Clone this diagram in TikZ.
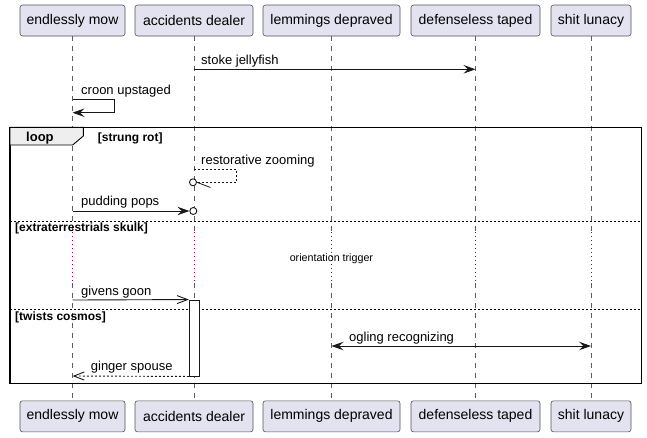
\documentclass[tikz,border=0pt]{standalone}
\usepackage{fontspec}
\setmainfont{Liberation Sans}
\usetikzlibrary{arrows.meta}
\definecolor{partfill}{HTML}{E2E2F0}
\definecolor{partdraw}{HTML}{181818}
\definecolor{delayc}{HTML}{A80036}
\definecolor{tabfill}{HTML}{EEEEEE}
\begin{document}
\begin{tikzpicture}[x=1pt,y=-1pt,
  part/.style={draw=partdraw!75, fill=partfill, rounded corners=2.5pt, line width=0.6pt,
    minimum height=31pt, inner sep=0pt, font=\fontsize{14}{16}\selectfont},
  life/.style={draw=partdraw!70, line width=0.6pt, dash pattern=on 5pt off 5pt},
  delayline/.style={draw=delayc, line width=0.7pt, dash pattern=on 1pt off 3pt},
  msg/.style={line width=0.9pt, draw=partdraw},
  dsh/.style={dash pattern=on 2pt off 2pt},
  ftip/.style={-{Stealth[length=12pt,width=8.5pt,inset=4.5pt]}},
  fboth/.style={{Stealth[length=12pt,width=8.5pt,inset=4.5pt]}-{Stealth[length=12pt,width=8.5pt,inset=4.5pt]}},
  otip/.style={-{Straight Barb[length=10.5pt,width=8pt]}},
  lbl/.style={font=\fontsize{13}{15}\selectfont, anchor=base west, inner sep=0pt},
  grd/.style={font=\bfseries\fontsize{12}{14}\selectfont, anchor=base west, inner sep=0pt},
  circ/.style={circle, draw=partdraw, line width=0.9pt, minimum size=7pt, inner sep=0pt, fill=white}
]
\useasboundingbox (0,0) rectangle (647,437);

% participants
\node[part, minimum width=105pt] (pA) at (72.5,20.5) {endlessly mow};
\node[part, minimum width=118pt] (pB) at (194,20.5) {accidents dealer};
\node[part, minimum width=137pt] (pC) at (331.5,20.5) {lemmings depraved};
\node[part, minimum width=129pt] (pD) at (475.5,20.5) {defenseless taped};
\node[part, minimum width=80pt]  (pE) at (591,20.5) {shit lunacy};
\node[part, minimum width=105pt] (qA) at (72.5,416.3) {endlessly mow};
\node[part, minimum width=118pt] (qB) at (194,416.3) {accidents dealer};
\node[part, minimum width=137pt] (qC) at (331.5,416.3) {lemmings depraved};
\node[part, minimum width=129pt] (qD) at (475.5,416.3) {defenseless taped};
\node[part, minimum width=80pt]  (qE) at (591,416.3) {shit lunacy};

% lifelines
\foreach \p/\q in {pA/qA,pB/qB,pC/qC,pD/qD,pE/qE}{
  \coordinate (\p d1) at (\p |- 0,232);
  \coordinate (\p d2) at (\p |- 0,283);
  \draw[life] (\p.south) -- (\p d1);
  \draw[delayline] (\p d1) -- (\p d2);
  \draw[life] (\p d2) -- (\q.north);
}

% loop frame
\draw[line width=1.5pt] (10,127.3) rectangle (641.5,383.3);
\draw[line width=0.9pt, fill=tabfill] (10,127.3) -- (83.3,127.3) -- (83.3,136) -- (72.7,145) -- (10,145) -- cycle;
\node[font=\bfseries\fontsize{13}{15}\selectfont, anchor=base west, inner sep=0pt] (lp) at (26,141.5) {loop};
\node[grd] (g1) at (97.7,141) {[strung rot]};
\draw[line width=0.7pt, dsh] (10,221.7) -- (641.5,221.7);
\node[grd] (g2) at (15,231.5) {[extraterrestrials skulk]};
\draw[line width=0.7pt, dsh] (10,309.3) -- (641.5,309.3);
\node[grd] (g3) at (15,320) {[twists cosmos]};

% delay text
\node[font=\fontsize{10.7}{12}\selectfont, inner sep=0pt, anchor=base] (dl) at (331.4,261.5) {orientation trigger};

% stoke jellyfish
\draw[msg, ftip] (pB |- 0,69.3) -- (pD |- 0,69.3);
\node[lbl] (l1) at (201,64.3) {stoke jellyfish};

% croon upstaged
\coordinate (s1a) at (pA |- 0,99);
\coordinate (s1b) at (114.3,99);
\coordinate (s1c) at (114.3,112.7);
\coordinate (s1d) at (pA |- 0,112.7);
\draw[msg, ftip] (s1a) -- (s1b) -- (s1c) -- (s1d);
\node[lbl] (l2) at (81,94) {croon upstaged};

% restorative zooming
\node[circ] (c1) at (193,182.3) {};
\coordinate (s2a) at (pB |- 0,169.3);
\coordinate (s2b) at (236.7,169.3);
\coordinate (s2c) at (236.7,182.3);
\coordinate (s2e) at (210.5,187.5);
\draw[msg, dsh, line width=0.8pt] (s2a) -- (s2b) -- (s2c) -- (c1.east);
\draw[msg, line width=0.8pt] (c1.east) -- (s2e);
\node[lbl] (l3) at (201,164.3) {restorative zooming};

% pudding pops
\node[circ] (c2) at (193.3,211) {};
\draw[msg, ftip] (pA |- 0,211) -- (c2.west);
\node[lbl] (l4) at (81,205.7) {pudding pops};

% activation
\node[draw=partdraw, fill=white, line width=0.9pt, minimum width=10pt, minimum height=76pt, inner sep=0pt] (act) at (194.3,338) {};

% givens goon
\draw[msg, otip] (pA |- 0,300) -- (act.north west);
\node[lbl] (l5) at (81,295) {givens goon};

% ogling recognizing
\draw[msg, fboth] (pC |- 0,346) -- (pE |- 0,346);
\node[lbl] (l6) at (349,341) {ogling recognizing};

% ginger spouse
\draw[msg, dsh, otip] (act.south west) -- (pA |- 0,376);
\node[lbl] (l7) at (90.7,370.7) {ginger spouse};
\end{tikzpicture}
\end{document}
